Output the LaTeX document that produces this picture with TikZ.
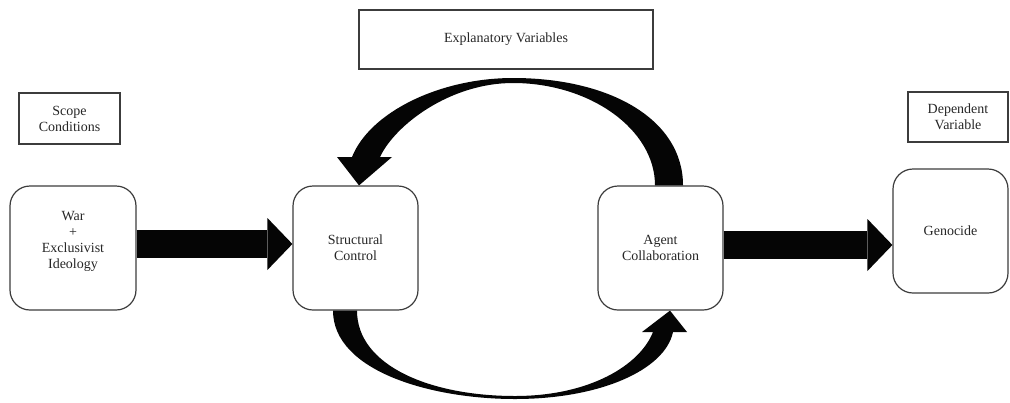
\documentclass[tikz,border=0pt]{standalone}
\usepackage{fontspec}
\setmainfont{Liberation Serif}
\usepackage{xcolor}
\usetikzlibrary{arrows.meta,positioning,calc}
\definecolor{boxink}{HTML}{3C3C3C}
\definecolor{textink}{HTML}{262626}
\definecolor{arrowink}{HTML}{050505}

\begin{document}
\begin{tikzpicture}[x=0.5pt,y=-0.5pt,
  tag/.style={rectangle,draw=boxink,line width=0.6pt,align=center,
    inner sep=0pt,text=textink,font=\fontsize{7}{8}\selectfont},
  stage/.style={rectangle,draw=boxink,line width=0.6pt,rounded corners=10pt,
    align=center,inner sep=0pt,minimum width=62.5pt,minimum height=62pt,
    text=textink,font=\fontsize{7}{8}\selectfont},
  push/.style={arrowink,line width=14pt,
    -{Triangle[length=12.5pt,width=26pt,line width=0pt]}}
]
  \useasboundingbox (0,0) rectangle (1010,402);

  % headings
  \node[tag,minimum width=50.5pt,minimum height=25.5pt] (scope) at (69.5,118.5)
    {Scope\\Conditions};
  \node[tag,minimum width=147pt,minimum height=29.5pt] (expl) at (506,39.5)
    {Explanatory Variables};
  \node[tag,minimum width=50pt,minimum height=25pt] (dep) at (958,117)
    {Dependent\\Variable};

  % stages
  \node[stage,minimum width=63pt] (war) at (73,248)
    {War\\+\\Exclusivist\\Ideology\\\mbox{}};
  \node[stage] (struct) at (355.5,248) {Structural\\Control};
  \node[stage] (agent) at (660.5,248) {Agent\\Collaboration};
  \node[stage,minimum width=57.5pt] (geno) at (950.5,231) {Genocide};

  % block arrows
  \draw[push] ([yshift=2pt]war.east) -- ([yshift=2pt]struct.west);
  \draw[push] ([yshift=1.5pt]agent.east) -- ([yshift=1.5pt]agent.east -| geno.west);

  % curved arrow back over the top
  \fill[arrowink] ([xshift=11.25pt]agent.north)
    .. controls +(0,-66) and +(97,0) .. (513,78)
    .. controls +(-73,0) and +(18,-45) .. (352,157)
    -- (337,157) -- ([xshift=1.75pt]struct.north) -- (392,157) -- (380,157)
    .. controls +(15,-32) and +(-63,0) .. (513,83)
    .. controls +(77,0) and +(0,-56) .. ([xshift=-2.75pt]agent.north)
    -- cycle;

  % curved arrow round the bottom
  \fill[arrowink] ([xshift=-11.25pt]struct.south)
    .. controls +(0,60) and +(-85,0) .. (515,399)
    .. controls +(85,0) and +(-8,38) .. (673,332)
    -- (687,332) -- ([xshift=4.75pt]agent.south) -- (642,332) -- (653,332)
    .. controls +(-13,33) and +(75,0) .. (515,396)
    .. controls +(-85,0) and +(0,55) .. ([xshift=0.75pt]struct.south)
    -- cycle;
\end{tikzpicture}
\end{document}
